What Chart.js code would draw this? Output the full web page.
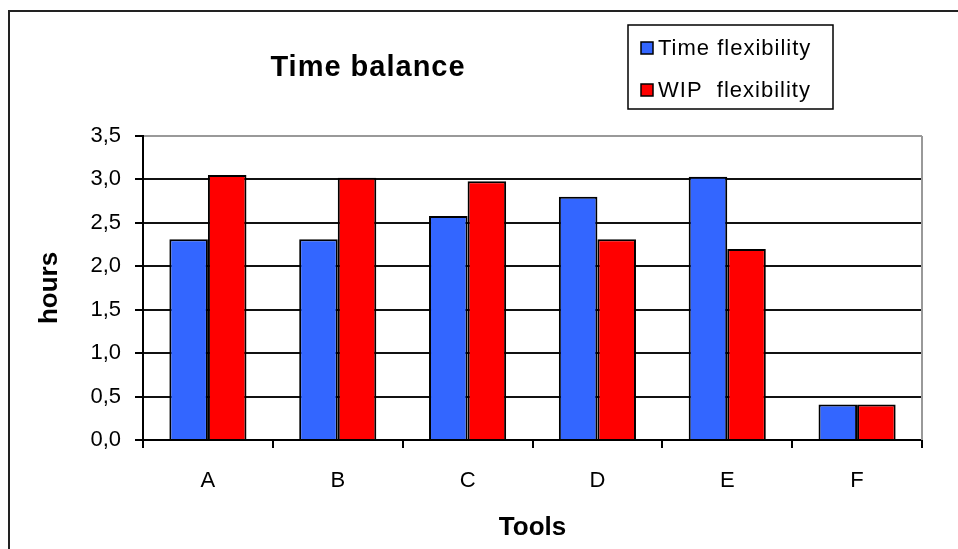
<!DOCTYPE html>
<html>
<head>
<meta charset="utf-8">
<script src="https://cdn.jsdelivr.net/npm/chart.js@4/dist/chart.umd.min.js"></script>
<style>
  html, body { margin: 0; padding: 0; background: #fff; }
  #wrap { width: 958px; height: 549px; position: relative; }
</style>
</head>
<body>
<div id="wrap"><canvas id="timeChart" width="958" height="549"></canvas></div>
<script>
// chart data
const tools = ['A', 'B', 'C', 'D', 'E', 'F'];
const timeFlex = [2.31, 2.31, 2.58, 2.80, 3.03, 0.41];
const wipFlex = [3.05, 3.02, 2.98, 2.31, 2.20, 0.41];
const seriesNames = ['Time flexibility', 'WIP  flexibility'];
const seriesColors = ['#3366ff', '#ff0000'];
const yTicks = [0, 0.5, 1, 1.5, 2, 2.5, 3, 3.5];

const FONT = '"Liberation Sans", Arial, sans-serif';

// white page, outer frame, plot border, title and legend box
const frameAndLegend = {
  id: 'frameAndLegend',
  beforeDraw(chart) {
    const ctx = chart.ctx;
    ctx.save();
    ctx.fillStyle = '#fff';
    ctx.fillRect(0, 0, chart.width, chart.height);
    ctx.strokeStyle = '#222';
    ctx.lineWidth = 2;
    ctx.beginPath();
    ctx.moveTo(9, chart.height + 5);
    ctx.lineTo(9, 11);
    ctx.lineTo(chart.width + 5, 11);
    ctx.stroke();
    ctx.restore();
  },
  afterDraw(chart) {
    const ctx = chart.ctx;
    const area = chart.chartArea;
    ctx.save();
    // right edge of the plot
    ctx.strokeStyle = '#999';
    ctx.lineWidth = 2;
    ctx.beginPath();
    ctx.moveTo(area.right, area.top);
    ctx.lineTo(area.right, area.bottom);
    ctx.stroke();

    // title
    ctx.fillStyle = '#000';
    ctx.font = 'bold 29px ' + FONT;
    ctx.textAlign = 'center';
    ctx.textBaseline = 'middle';
    if ('letterSpacing' in ctx) ctx.letterSpacing = '1px';
    ctx.fillText('Time balance', 368, 68);

    // legend
    ctx.letterSpacing = '0px';
    ctx.fillStyle = '#fff';
    ctx.fillRect(628, 25, 205, 84);
    ctx.strokeStyle = '#000';
    ctx.lineWidth = 1.5;
    ctx.strokeRect(628, 25, 205, 84);
    const rows = [48, 90];
    chart.data.datasets.forEach((ds, i) => {
      ctx.fillStyle = ds.backgroundColor;
      ctx.fillRect(641, rows[i] - 6, 12, 12);
      ctx.strokeStyle = '#000';
      ctx.lineWidth = 1.5;
      ctx.strokeRect(641, rows[i] - 6, 12, 12);
      ctx.fillStyle = '#000';
      ctx.font = '22px ' + FONT;
      ctx.textAlign = 'left';
      ctx.textBaseline = 'middle';
      if ('letterSpacing' in ctx) ctx.letterSpacing = '1px';
      ctx.fillText(ds.label, 658, rows[i] + 1);
    });
    ctx.restore();
  }
};

const ctx = document.getElementById('timeChart').getContext('2d');
const timeChart = new Chart(ctx, {
  type: 'bar',
  data: {
    labels: tools,
    datasets: [
      { label: seriesNames[0], data: timeFlex, backgroundColor: seriesColors[0], borderColor: '#000', borderWidth: 2 },
      { label: seriesNames[1], data: wipFlex, backgroundColor: seriesColors[1], borderColor: '#000', borderWidth: 2 }
    ]
  },
  options: {
    responsive: false,
    animation: false,
    layout: { padding: { left: 10, top: 136, right: 36, bottom: 0 } },
    datasets: { bar: { categoryPercentage: 0.594, barPercentage: 1 } },
    plugins: {
      legend: { display: false },
      title: { display: false },
      tooltip: { enabled: false }
    },
    scales: {
      x: {
        afterFit(scale) { scale.height = 109; },
        grid: {
          drawOnChartArea: false,
          drawTicks: true,
          tickLength: 8,
          color: '#000',
          lineWidth: 2
        },
        border: { color: '#000', width: 2 },
        ticks: {
          color: '#000',
          padding: 20,
          font: { family: FONT, size: 22 }
        },
        title: {
          display: true,
          text: 'Tools',
          color: '#000',
          font: { family: FONT, size: 26, weight: 'bold' },
          padding: { top: 0, bottom: 6 }
        }
      },
      y: {
        min: 0,
        max: 3.5,
        afterFit(scale) { scale.width = 133; },
        afterBuildTicks(scale) { scale.ticks = yTicks.map(v => ({ value: v })); },
        grid: {
          drawTicks: true,
          tickLength: 8,
          color: c => (c.tick && c.tick.value === 3.5 ? '#999' : '#111'),
          tickColor: '#000',
          lineWidth: 2
        },
        border: { color: '#000', width: 2 },
        ticks: {
          color: '#000',
          padding: 14,
          font: { family: FONT, size: 22 },
          callback: v => v.toFixed(1).replace('.', ',')
        },
        title: {
          display: true,
          text: 'hours',
          color: '#000',
          font: { family: FONT, size: 26, weight: 'bold' },
          padding: { top: 24, bottom: 0 }
        }
      }
    }
  },
  plugins: [frameAndLegend]
});
</script>
</body>
</html>
